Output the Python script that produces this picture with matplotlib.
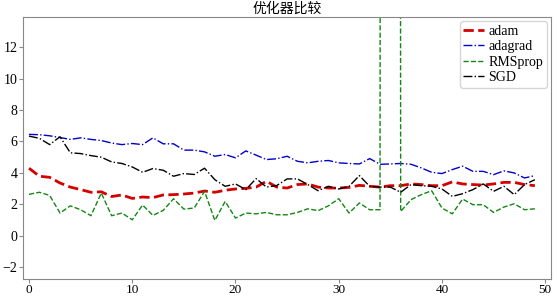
import numpy as np
import matplotlib
matplotlib.use('Agg')
import matplotlib.pyplot as plt

plt.rcParams['font.family'] = ['Liberation Serif', 'Noto Sans CJK SC', 'DejaVu Sans']
plt.rcParams['font.size'] = 10

#%% data
epochs = np.arange(50)

adam = [4.30, 3.79, 3.72, 3.36, 3.10, 2.94, 2.77, 2.80, 2.50, 2.60,
        2.38, 2.47, 2.43, 2.60, 2.62, 2.66, 2.72, 2.85, 2.77, 2.90,
        2.98, 3.02, 3.10, 3.47, 3.10, 3.04, 3.26, 3.30, 3.10, 3.04,
        3.04, 3.08, 3.21, 3.15, 3.10, 3.19, 3.19, 3.30, 3.26, 3.19,
        3.19, 3.43, 3.30, 3.26, 3.23, 3.30, 3.40, 3.40, 3.26, 3.19]

adagrad = [6.45, 6.43, 6.36, 6.25, 6.13, 6.23, 6.13, 6.06, 5.90, 5.80,
           5.87, 5.80, 6.23, 5.85, 5.85, 5.45, 5.45, 5.34, 5.06, 5.17,
           4.96, 5.40, 5.13, 4.85, 4.90, 5.06, 4.74, 4.64, 4.74, 4.79,
           4.64, 4.60, 4.57, 4.91, 4.55, 4.57, 4.60, 4.55, 4.32, 4.04,
           3.96, 4.21, 4.43, 4.10, 4.10, 3.89, 4.13, 4.00, 3.68, 3.83]

rmsprop = [2.64, 2.77, 2.57, 1.45, 1.91, 1.66, 1.28, 2.72, 1.28, 1.45,
           1.02, 1.96, 1.30, 1.62, 2.36, 1.70, 1.77, 2.83, 0.98, 2.19,
           1.13, 1.45, 1.40, 1.49, 1.34, 1.34, 1.49, 1.72, 1.60, 1.91,
           2.36, 1.45, 2.09, 1.66, 1.66, 1000.0, 1.55, 2.30, 2.62, 2.87,
           1.77, 1.40, 2.34, 1.98, 1.98, 1.49, 1.83, 2.04, 1.66, 1.72]

sgd = [6.34, 6.20, 5.80, 6.30, 5.28, 5.23, 5.10, 5.00, 4.70, 4.60,
       4.38, 4.04, 4.28, 4.17, 3.79, 3.96, 3.90, 4.30, 3.57, 3.15,
       3.30, 2.94, 3.64, 3.10, 3.20, 3.62, 3.62, 3.26, 2.87, 3.15,
       2.98, 3.15, 3.83, 3.15, 3.10, 3.10, 2.77, 3.26, 3.19, 3.15,
       2.98, 2.51, 2.68, 2.94, 3.30, 2.83, 3.15, 2.62, 3.26, 3.57]

#%% plot
fig = plt.figure(figsize=(5.57, 2.96), dpi=100)
ax = fig.add_axes([0.041, 0.057, 0.948, 0.885])

ax.plot(epochs, adam, color='#d40000', linestyle='--', linewidth=2.0, label='adam')
ax.plot(epochs, adagrad, color='#0000cc', linestyle='-.', linewidth=1.0, label='adagrad')
ax.plot(epochs, rmsprop, color='#118811', linestyle='--', linewidth=1.0, label='RMSprop')
ax.plot(epochs, sgd, color='black', linestyle='-.', linewidth=1.0, label='SGD')

ax.set_xlim(-0.6, 50.55)
ax.set_ylim(-2.75, 13.9)
ax.set_xticks([0, 10, 20, 30, 40, 50])
ax.set_yticks([-2, 0, 2, 4, 6, 8, 10, 12])
for s in ax.spines.values():
    s.set_color('#888888')
ax.tick_params(colors='#888888', labelcolor='black', length=3, pad=1)
ax.tick_params(axis='x', labelsize=9.5, pad=0.5)

ax.set_title('优化器比较', family=['Noto Sans CJK SC', 'DejaVu Sans'], fontsize=10, pad=3)
ax.legend(loc='upper right', fontsize=10, handlelength=1.5, borderpad=0.25,
          labelspacing=0.18, handletextpad=0.3, borderaxespad=0.3)

plt.savefig('out.png')
